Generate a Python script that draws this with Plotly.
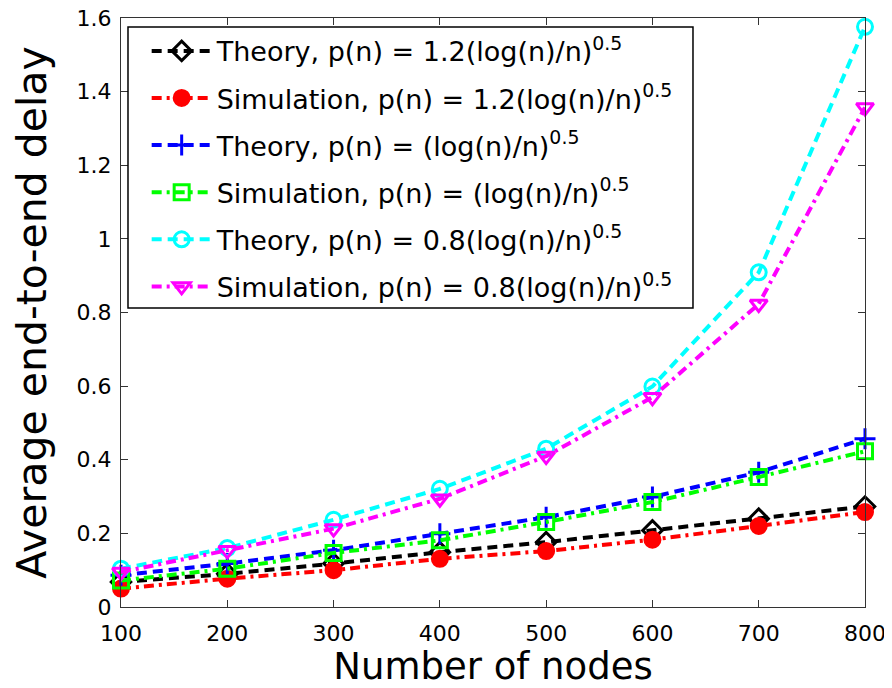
import plotly.graph_objects as go

nodes = [100, 200, 300, 400, 500, 600, 700, 800]
theory_12 = [0.068, 0.090, 0.118, 0.149, 0.176, 0.208, 0.240, 0.273]
sim_12 = [0.050, 0.077, 0.100, 0.131, 0.152, 0.183, 0.220, 0.258]
theory_10 = [0.086, 0.118, 0.154, 0.199, 0.244, 0.299, 0.366, 0.457]
sim_10 = [0.072, 0.104, 0.147, 0.181, 0.231, 0.285, 0.353, 0.423]
theory_08 = [0.104, 0.160, 0.237, 0.321, 0.430, 0.599, 0.909, 1.576]
sim_08 = [0.095, 0.154, 0.213, 0.294, 0.410, 0.570, 0.823, 1.357]

y_ticks = [0, 0.2, 0.4, 0.6, 0.8, 1, 1.2, 1.4, 1.6]
y_ticktext = ["0", "0.2", "0.4", "0.6", "0.8", "1", "1.2", "1.4", "1.6"]

names = [
    "Theory, p(n) = 1.2(log(n)/n)<sup>0.5</sup>",
    "Simulation, p(n) = 1.2(log(n)/n)<sup>0.5</sup>",
    "Theory, p(n) = (log(n)/n)<sup>0.5</sup>",
    "Simulation, p(n) = (log(n)/n)<sup>0.5</sup>",
    "Theory, p(n) = 0.8(log(n)/n)<sup>0.5</sup>",
    "Simulation, p(n) = 0.8(log(n)/n)<sup>0.5</sup>",
]
series = [theory_12, sim_12, theory_10, sim_10, theory_08, sim_08]
colors = ["#000000", "#ff0000", "#0000ff", "#00ff00", "#00ffff", "#ff00ff"]
dashes = ["10px,6px", "10px,5px,3px,5px", "10px,6px", "10px,5px,3px,5px", "10px,6px", "10px,5px,3px,5px"]
symbols = ["diamond-open", "circle", "cross-thin-open", "square-open", "circle-open", "triangle-down-open"]

FONT = "DejaVu Sans, Liberation Sans, Arial, sans-serif"

fig = go.Figure()
for i, (nm, ys, c, d, s) in enumerate(zip(names, series, colors, dashes, symbols)):
    fig.add_trace(go.Scatter(
        x=nodes, y=ys, name=nm, mode="lines+markers",
        line=dict(color=c, dash=d, width=4),
        marker=dict(symbol=s, size=15, color=c, line=dict(color=c, width=3)),
        cliponaxis=False, legendgroup=str(i),
    ))

axis_common = dict(
    showline=True, linecolor="#333333", linewidth=1.2, mirror="ticks",
    ticks="inside", ticklen=7, tickcolor="#333333", showgrid=False, zeroline=False,
    automargin=False, ticklabeloverflow="allow",
    tickfont=dict(family=FONT, size=22, color="black"),
)

# legend frame (drawn as a box behind the legend entries)
fig.add_shape(type="rect", xref="paper", yref="paper",
              x0=0.0094, x1=0.7688, y0=0.5076, y1=0.9847,
              fillcolor="white", line=dict(color="black", width=1.5), layer="above")

# the page body adds an 8px offset, so the figure is sized 8px smaller
fig.update_layout(
    width=884, height=680,
    margin=dict(l=113, r=27, t=10, b=81, autoexpand=False),
    paper_bgcolor="white", plot_bgcolor="white",
    font=dict(family=FONT, color="black"),
    xaxis=dict(range=[100, 800], tickvals=nodes, ticktext=[str(v) for v in nodes],
               ticklabelstandoff=6,
               title=dict(text="Number of nodes", font=dict(size=37), standoff=2),
               **axis_common),
    yaxis=dict(range=[0, 1.6], tickvals=y_ticks, ticktext=y_ticktext,
               ticklabelstandoff=4,
               title=dict(text="Average end-to-end delay", font=dict(size=41), standoff=18),
               **axis_common),
    legend=dict(x=0.0345, y=0.985, xanchor="left", yanchor="top",
                bgcolor="rgba(0,0,0,0)", borderwidth=0,
                font=dict(size=27), tracegroupgap=9, itemwidth=60),
    showlegend=True,
)

fig.write_html("out.html")
